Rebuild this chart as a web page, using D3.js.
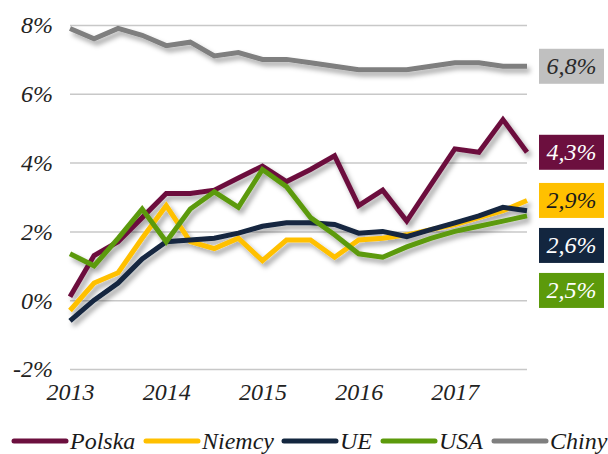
<!DOCTYPE html>
<html><head><meta charset="utf-8">
<script src="https://cdn.jsdelivr.net/npm/d3@7"></script>
<style>
html,body{margin:0;padding:0;background:#fff;}
svg{display:block;}
svg text{font-family:"Liberation Serif","Times New Roman",Times,serif !important;font-style:italic;}
</style></head>
<body>
<script>
const periods = ["2013Q1","2013Q2","2013Q3","2013Q4","2014Q1","2014Q2","2014Q3","2014Q4","2015Q1","2015Q2","2015Q3","2015Q4","2016Q1","2016Q2","2016Q3","2016Q4","2017Q1","2017Q2","2017Q3","2017Q4"];
const yearTicks = ["2013Q1","2014Q1","2015Q1","2016Q1","2017Q1"];
const yearLabels = ["2013","2014","2015","2016","2017"];
const yTicks = [-2,0,2,4,6,8];
const seriesNames = ["Polska","Niemcy","UE","USA","Chiny"];
const polska = [0.1,1.3,1.7,2.4,3.1,3.1,3.2,3.55,3.9,3.45,3.8,4.2,2.75,3.2,2.3,3.35,4.4,4.3,5.25,4.3];
const niemcy = [-0.3,0.5,0.8,1.8,2.75,1.7,1.5,1.8,1.15,1.75,1.75,1.25,1.75,1.8,1.9,2.05,2.2,2.4,2.6,2.9];
const ue = [-0.6,0.0,0.5,1.2,1.7,1.75,1.8,1.95,2.15,2.25,2.25,2.2,1.95,2.0,1.85,2.05,2.25,2.45,2.7,2.6];
const usa = [1.35,1.0,1.8,2.65,1.7,2.65,3.15,2.7,3.8,3.3,2.4,1.9,1.35,1.25,1.55,1.8,2.0,2.15,2.3,2.45];
const chiny = [7.9,7.6,7.9,7.7,7.4,7.5,7.1,7.2,7.0,7.0,6.9,6.8,6.7,6.7,6.7,6.8,6.9,6.9,6.8,6.8];
const endLabels = ["4,3%","2,9%","2,6%","2,5%","6,8%"];
const colors = ["#6c0f3e","#ffc000","#13263f","#5c9a0b","#7f7f7f"];
const boxColors = ["#6c0f3e","#ffc000","#13263f","#5c9a0b","#c0c0c0"];
const boxText = ["#ffffff","#1a1a1a","#ffffff","#ffffff","#2a2a2a"];

const W = 608, H = 454;
const svg = d3.select("body").append("svg").attr("width", W).attr("height", H);
const defs = svg.append("defs");
const f = defs.append("filter").attr("id","sh").attr("x","-10%").attr("y","-10%").attr("width","130%").attr("height","140%");
f.append("feDropShadow").attr("dx",3).attr("dy",4).attr("stdDeviation",2.5).attr("flood-color","#000").attr("flood-opacity",0.35);

const x = d3.scalePoint().domain(periods).range([70, 527]);
const y = d3.scaleLinear().domain([-2, 8]).range([369, 25]);

const FS = "24px";
const yAxis = d3.axisLeft(y).tickValues(yTicks).tickSize(-(527-70)).tickFormat(d => d + "%");
const ya = svg.append("g").attr("transform","translate(70,0)").call(yAxis);
ya.attr("font-family", null).attr("font-size", null);
ya.select(".domain").remove();
ya.selectAll(".tick line").attr("stroke","#c8c8c8").attr("stroke-width",1.5);
ya.selectAll(".tick text").attr("x",-17).attr("dy","0.33em").attr("fill","#222").style("font-size",FS);

const xAxis = d3.axisBottom(x).tickValues(yearTicks).tickSize(0).tickFormat((d,i) => yearLabels[i]);
const xa = svg.append("g").attr("transform","translate(0,380)").call(xAxis);
xa.attr("font-family", null).attr("font-size", null);
xa.select(".domain").remove();
xa.selectAll(".tick text").attr("dy","0.71em").attr("y",3).attr("fill","#222").style("font-size",FS);

const allSeries = [polska, niemcy, ue, usa, chiny];
const line = d3.line().x((d,i) => x(periods[i])).y(d => y(d));
const drawOrder = [4,0,1,2,3];
const lg = svg.append("g").attr("filter","url(#sh)");
drawOrder.forEach(k => {
  lg.append("path").datum(allSeries[k]).attr("d", line).attr("fill","none")
    .attr("stroke", colors[k]).attr("stroke-width",5).attr("stroke-linejoin","miter");
});

// end label boxes
const order = [4,0,1,2,3];
let prevBottom = -Infinity;
const bw = 65, bh = 35, bx = 539, gap = 10;
order.forEach(k => {
  const v = allSeries[k][allSeries[k].length-1];
  let cy = y(v);
  if (cy - bh/2 < prevBottom + gap) cy = prevBottom + gap + bh/2;
  prevBottom = cy + bh/2;
  svg.append("rect").attr("x",bx).attr("y",cy-bh/2).attr("width",bw).attr("height",bh).attr("fill",boxColors[k]);
  svg.append("text").attr("x",bx+bw/2).attr("y",cy).attr("dy","0.33em").attr("text-anchor","middle")
    .attr("fill",boxText[k]).style("font-size",FS).text(endLabels[k]);
});

// legend
const legX = [14,146,284,383,494];
const leg = svg.append("g");
seriesNames.forEach((n,k) => {
  leg.append("line").attr("x1",legX[k]).attr("x2",legX[k]+52).attr("y1",441).attr("y2",441)
    .attr("stroke",colors[k]).attr("stroke-width",5).attr("stroke-linecap","round");
  leg.append("text").attr("x",legX[k]+56).attr("y",441).attr("dy","0.33em").attr("fill","#1a1a1a")
    .style("font-size",FS).text(n);
});
</script>
</body></html>
